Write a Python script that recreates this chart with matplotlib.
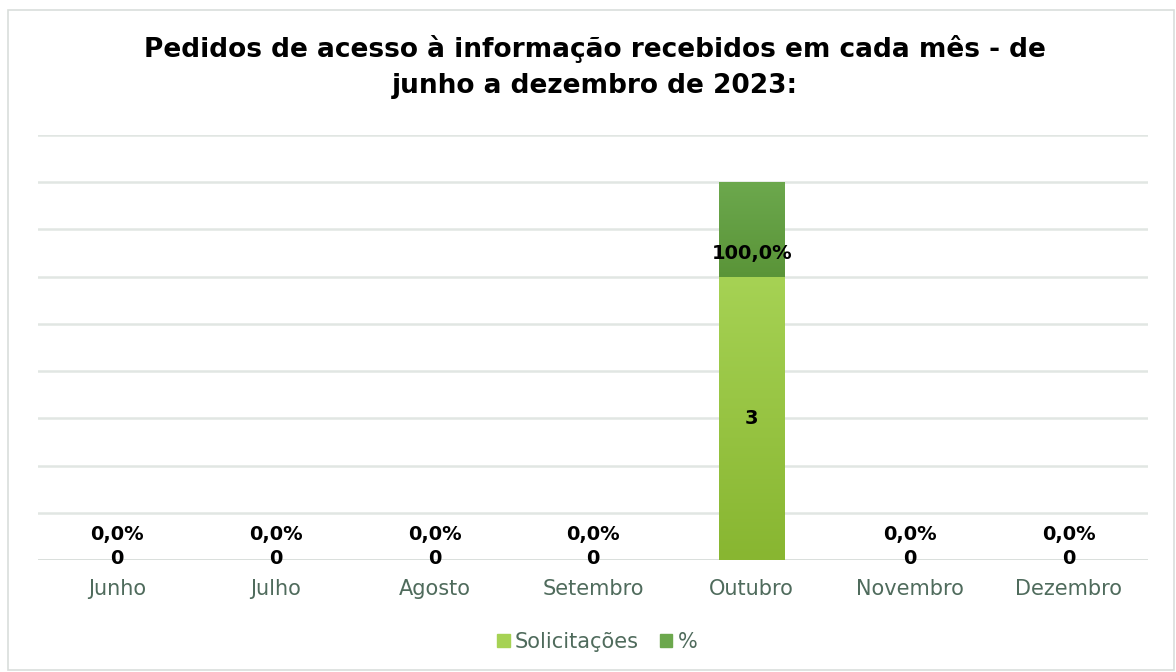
import numpy as np
import matplotlib.pyplot as plt
from matplotlib.patches import Rectangle
from matplotlib.colors import LinearSegmentedColormap

# Data
meses = ['Junho', 'Julho', 'Agosto', 'Setembro', 'Outubro', 'Novembro', 'Dezembro']
solicitacoes = [0, 0, 0, 0, 3, 0, 0]
percentual = [0.0, 0.0, 0.0, 0.0, 1.0, 0.0, 0.0]  # fraction of total

titulo = 'Pedidos de acesso à informação recebidos em cada mês - de\njunho a dezembro de 2023:'

# Colours
verde_claro = ('#a6d254', '#88b631')
verde_escuro = ('#6ca84d', '#5a9438')
cor_texto = '#4f6b5c'
cor_grade = '#e1e6e3'

plt.rcParams['font.family'] = 'DejaVu Sans'

fig = plt.figure(figsize=(11.76, 6.72), dpi=100)
ax = fig.add_axes([0.0323, 0.1667, 0.9440, 0.6324])

# chart border
fig.patches.append(Rectangle((8 / 1176, 2 / 672), 1166 / 1176, 660 / 672,
                             transform=fig.transFigure, fill=False,
                             edgecolor='#d9dedb', linewidth=1.2))

x = np.arange(len(meses))
largura = 0.41


def gradient_bars(xs, heights, bottoms, cores):
    cmap = LinearSegmentedColormap.from_list('g', [cores[1], cores[0]])
    bars = ax.bar(xs, heights, largura, bottom=bottoms, color=cores[0],
                  edgecolor='none', zorder=2)
    for b in bars:
        h = b.get_height()
        if h <= 0:
            continue
        b.set_facecolor('none')
        x0, y0 = b.get_x(), b.get_y()
        grad = np.linspace(0, 1, 256).reshape(-1, 1)
        im = ax.imshow(grad, cmap=cmap, origin='lower', aspect='auto',
                       extent=(x0, x0 + b.get_width(), y0, y0 + h), zorder=2)
        im.set_clip_path(b)
    return bars


b1 = gradient_bars(x, solicitacoes, 0, verde_claro)
b2 = gradient_bars(x, percentual, solicitacoes, verde_escuro)

# data labels
for i in range(len(meses)):
    s = solicitacoes[i]
    p = percentual[i]
    pct = f'{p * 100:.1f}%'.replace('.', ',')
    if s == 0:
        ax.annotate(str(s), (x[i], 0), xytext=(0, 1), textcoords='offset points',
                    ha='center', va='center', fontsize=14, fontweight='bold', zorder=4)
        ax.annotate(pct, (x[i], 0), xytext=(0, 18.5), textcoords='offset points',
                    ha='center', va='center', fontsize=14, fontweight='bold', zorder=4)
    else:
        ax.text(x[i], s / 2, str(s), ha='center', va='center',
                fontsize=14, fontweight='bold', zorder=4)
        ax.text(x[i], s + p * 0.25, pct, ha='center', va='center',
                fontsize=14, fontweight='bold', zorder=4)

ax.set_xlim(-0.5, len(meses) - 0.5)
ax.set_ylim(0, 4.5)
ax.set_yticks(np.arange(0, 4.51, 0.5))
ax.yaxis.grid(True, color=cor_grade, linewidth=1.8, zorder=0)
ax.set_axisbelow(True)
ax.tick_params(axis='y', left=False, labelleft=False)
ax.tick_params(axis='x', length=0, pad=14, labelsize=15, labelcolor=cor_texto)
ax.set_xticks(x)
ax.set_xticklabels(meses)
for sp in ax.spines.values():
    sp.set_visible(False)
ax.axhline(0, color='#d6dbd8', linewidth=1.8, zorder=1)

fig.text(0.506, 0.9, titulo, ha='center', va='center', fontsize=19,
         fontweight='bold', linespacing=1.5)

# legend
handles = [Rectangle((0, 0), 1, 1, color=verde_claro[0]),
           Rectangle((0, 0), 1, 1, color=verde_escuro[0])]
leg = fig.legend(handles, ['Solicitações', '%'], loc='center',
                 bbox_to_anchor=(0.508, 0.045), ncol=2, frameon=False,
                 fontsize=15, handlelength=0.6, handleheight=0.6,
                 handletextpad=0.25, columnspacing=1.0)
for t in leg.get_texts():
    t.set_color(cor_texto)

fig.savefig('out.png', dpi=100)
